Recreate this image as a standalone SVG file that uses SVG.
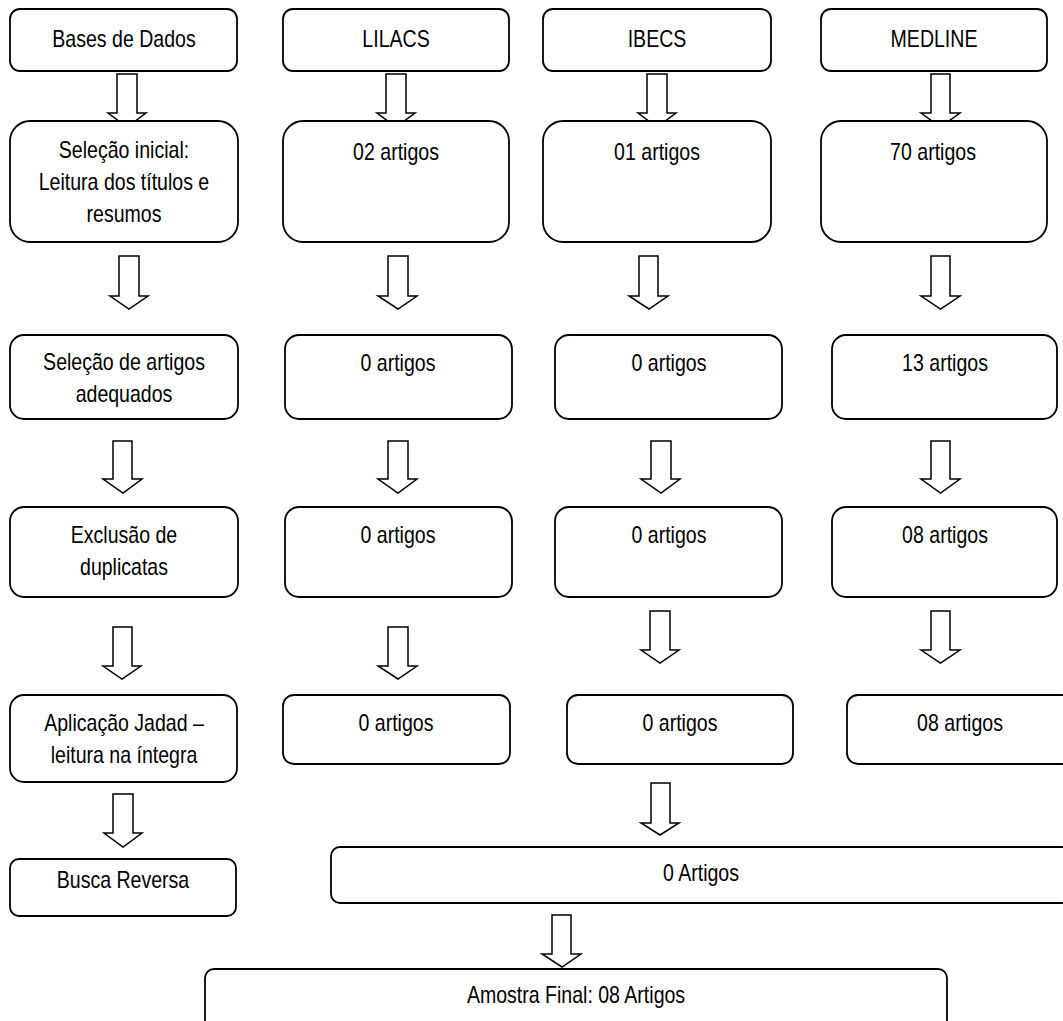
<svg xmlns="http://www.w3.org/2000/svg" width="1063" height="1021" viewBox="0 0 1063 1021">
<style>
.box{fill:#fff;stroke:#000;stroke-width:1.8}
.arr{fill:#fff;stroke:#000;stroke-width:1.5;stroke-linejoin:miter}
.t{font-family:"Liberation Sans",Arial,sans-serif;font-size:23px;fill:#000;text-anchor:middle}
</style>
<rect width="1063" height="1021" fill="#fff"/>
<g id="connectors">
<path class="arr" d="M117 74H137V113H146L127 127L108 113H117Z"/>
<path class="arr" d="M386 74H406V113H415L396 127L377 113H386Z"/>
<path class="arr" d="M647 74H667V113H676L657 127L638 113H647Z"/>
<path class="arr" d="M931 74H950V113H960L940.5 127L921 113H931Z"/>
<path class="arr" d="M119 256H139V296H148L129 309L110 296H119Z"/>
<path class="arr" d="M388 256H408V296H417L398 309L378 296H388Z"/>
<path class="arr" d="M639 256H658V296H668L649 309L629 296H639Z"/>
<path class="arr" d="M931 256H950V296H960L940.5 309L921 296H931Z"/>
<path class="arr" d="M113 441H132V479H142L123 493L103 479H113Z"/>
<path class="arr" d="M388 441H408V479H417L398 493L378 479H388Z"/>
<path class="arr" d="M651 441H671V479H680L661 493L641 479H651Z"/>
<path class="arr" d="M931 441H950V479H960L940.5 493L921 479H931Z"/>
<path class="arr" d="M113 627H132V666H141L122 679L103 666H113Z"/>
<path class="arr" d="M388 627H408V666H417L398 679L378 666H388Z"/>
<path class="arr" d="M650 611H670V650H679L660 663L641 650H650Z"/>
<path class="arr" d="M931 611H950V650H960L940.5 663L921 650H931Z"/>
<path class="arr" d="M113 794H133V833H142L123 847L104 833H113Z"/>
<path class="arr" d="M651 783H670V823H679L660 835L641 823H651Z"/>
<path class="arr" d="M552 915H571V954H581L562 967L542 954H552Z"/>
</g>
<g id="n-bases"><rect class="box" x="10" y="9" width="227" height="62" rx="10"/><text class="t" transform="translate(124 47) scale(0.85 1)">Bases de Dados</text></g>
<g id="n-lilacs"><rect class="box" x="283" y="9" width="226" height="62" rx="10"/><text class="t" transform="translate(396 47) scale(0.85 1)">LILACS</text></g>
<g id="n-ibecs"><rect class="box" x="543" y="9" width="228" height="62" rx="10"/><text class="t" transform="translate(657 47) scale(0.85 1)">IBECS</text></g>
<g id="n-medline"><rect class="box" x="821" y="9" width="226" height="62" rx="10"/><text class="t" transform="translate(934 47) scale(0.85 1)">MEDLINE</text></g>

<g id="n-selecao-inicial"><rect class="box" x="10" y="121" width="228" height="121" rx="20"/><text class="t" transform="translate(124 158) scale(0.85 1)"><tspan x="0" y="0">Seleção inicial:</tspan><tspan x="0" y="32">Leitura dos títulos e</tspan><tspan x="0" y="64">resumos</tspan></text></g>
<g id="n-lilacs-2"><rect class="box" x="283" y="121" width="226" height="121" rx="20"/><text class="t" transform="translate(396 160) scale(0.85 1)">02 artigos</text></g>
<g id="n-ibecs-2"><rect class="box" x="543" y="121" width="228" height="121" rx="20"/><text class="t" transform="translate(657 160) scale(0.85 1)">01 artigos</text></g>
<g id="n-medline-2"><rect class="box" x="821" y="121" width="226" height="121" rx="20"/><text class="t" transform="translate(933 160) scale(0.85 1)">70 artigos</text></g>

<g id="n-selecao-adequados"><rect class="box" x="10" y="335" width="228" height="84" rx="14"/><text class="t" transform="translate(124 370) scale(0.85 1)"><tspan x="0" y="0">Seleção de artigos</tspan><tspan x="0" y="32">adequados</tspan></text></g>
<g id="n-lilacs-3"><rect class="box" x="285" y="335" width="227" height="84" rx="14"/><text class="t" transform="translate(398 371) scale(0.85 1)">0 artigos</text></g>
<g id="n-ibecs-3"><rect class="box" x="555" y="335" width="227" height="84" rx="14"/><text class="t" transform="translate(669 371) scale(0.85 1)">0 artigos</text></g>
<g id="n-medline-3"><rect class="box" x="832" y="335" width="225" height="84" rx="14"/><text class="t" transform="translate(945 371) scale(0.85 1)">13 artigos</text></g>

<g id="n-exclusao"><rect class="box" x="10" y="507" width="228" height="90" rx="14"/><text class="t" transform="translate(124 543) scale(0.85 1)"><tspan x="0" y="0">Exclusão de</tspan><tspan x="0" y="32">duplicatas</tspan></text></g>
<g id="n-lilacs-4"><rect class="box" x="285" y="507" width="227" height="90" rx="14"/><text class="t" transform="translate(398 543) scale(0.85 1)">0 artigos</text></g>
<g id="n-ibecs-4"><rect class="box" x="555" y="507" width="227" height="90" rx="14"/><text class="t" transform="translate(669 543) scale(0.85 1)">0 artigos</text></g>
<g id="n-medline-4"><rect class="box" x="832" y="507" width="225" height="90" rx="14"/><text class="t" transform="translate(945 543) scale(0.85 1)">08 artigos</text></g>

<g id="n-jadad"><rect class="box" x="10" y="695" width="227" height="87" rx="14"/><text class="t" transform="translate(124 731) scale(0.85 1)"><tspan x="0" y="0">Aplicação Jadad –</tspan><tspan x="0" y="32">leitura na íntegra</tspan></text></g>
<g id="n-lilacs-5"><rect class="box" x="283" y="695" width="227" height="69" rx="11"/><text class="t" transform="translate(396 731) scale(0.85 1)">0 artigos</text></g>
<g id="n-ibecs-5"><rect class="box" x="567" y="695" width="226" height="69" rx="11"/><text class="t" transform="translate(680 731) scale(0.85 1)">0 artigos</text></g>
<g id="n-medline-5"><rect class="box" x="847" y="695" width="226" height="69" rx="11"/><text class="t" transform="translate(960 731) scale(0.85 1)">08 artigos</text></g>

<g id="n-busca"><rect class="box" x="10" y="859" width="226" height="57" rx="9"/><text class="t" transform="translate(123 888) scale(0.85 1)">Busca Reversa</text></g>
<g id="n-total"><rect class="box" x="331" y="847" width="740" height="56" rx="9"/><text class="t" transform="translate(701 881) scale(0.85 1)">0 Artigos</text></g>
<g id="n-final"><rect class="box" x="205" y="969" width="742" height="70" rx="9"/><text class="t" transform="translate(576 1003) scale(0.85 1)">Amostra Final: 08 Artigos</text></g>
</svg>
